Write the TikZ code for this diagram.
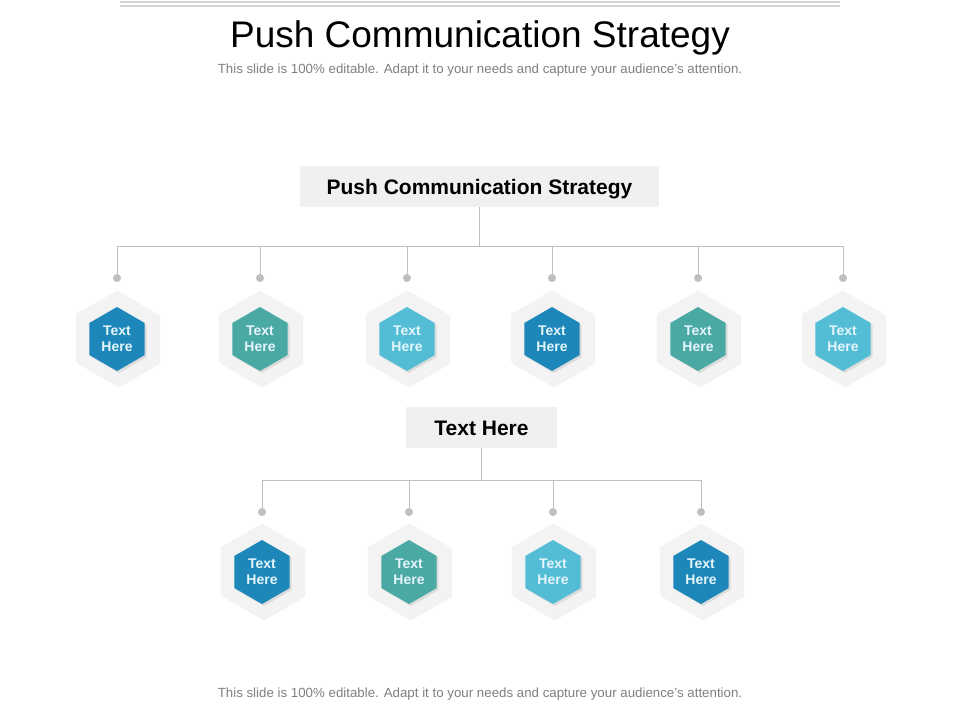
\documentclass[tikz,border=0pt]{standalone}
\usepackage{fontspec}
\setmainfont{Liberation Sans}
\usetikzlibrary{shapes.geometric,shadows}
\definecolor{hexdark}{HTML}{1D87BA}
\definecolor{hexteal}{HTML}{4BA9A4}
\definecolor{hexlight}{HTML}{53BDD6}
\definecolor{hexback}{HTML}{F3F3F4}
\definecolor{hextext}{HTML}{E4F5FB}
\definecolor{linegray}{HTML}{BFBFBF}
\definecolor{boxgray}{HTML}{F0F0F0}
\definecolor{rulegray}{HTML}{D4D4D4}
\definecolor{notegray}{HTML}{808080}
\begin{document}
\begin{tikzpicture}[x=1pt,y=-1pt,
  hexout/.style={regular polygon,regular polygon sides=6,shape border rotate=30,minimum size=95pt,inner sep=0pt,fill=hexback,drop shadow={shadow xshift=2pt,shadow yshift=-2pt,opacity=0.1}},
  hexin/.style={regular polygon,regular polygon sides=6,shape border rotate=30,minimum size=64pt,inner sep=0pt,fill=#1,text=hextext,align=center,font=\bfseries\fontsize{14}{16}\selectfont,drop shadow={shadow xshift=2pt,shadow yshift=-2pt,opacity=0.2}},
  headbox/.style={fill=boxgray,minimum height=41pt,inner sep=0pt,text height=15pt,text depth=0pt,font=\bfseries\fontsize{21}{25}\selectfont},
  note/.style={text=notegray,font=\fontsize{13.3}{16}\selectfont},
  pindot/.style={circle,fill=linegray,inner sep=0pt,minimum size=8pt},
  conn/.style={draw=linegray,line width=1pt}]
\fill[white](0,0)rectangle(960,720);
\useasboundingbox(0,0)rectangle(960,720);
\draw[rulegray,line width=2pt](120,1.5)--(840,1.5) (120,5.5)--(840,5.5);
\node (title) at (480,37.5) {\fontsize{37}{44}\selectfont Push Communication Strategy};
\node[note] (subtitle) at (480,70) {This slide is 100\% editable. Adapt it to your needs and capture your audience's attention.};
\node[note] (footer) at (480,694) {This slide is 100\% editable. Adapt it to your needs and capture your audience's attention.};
% top level
\node[headbox,minimum width=359pt] (main) at (479.5,186.5) {Push Communication Strategy};
\foreach \x/\c [count=\i] in {117/hexdark,260/hexteal,407/hexlight,552/hexdark,698/hexteal,843/hexlight}{
  \node[pindot] (d\i) at (\x,278) {};
  \draw[conn] (main.south)--++(0,39)-|(d\i.north);
  \node[hexout] (o\i) at (\x,338) {};
  \node[hexin=\c] (h\i) at (\x,339) {Text\\Here};
}
% second level
\node[headbox,minimum width=151pt] (branch) at (481.5,427.5) {Text Here};
\foreach \x/\c [count=\i] in {262/hexdark,409/hexteal,553/hexlight,701/hexdark}{
  \node[pindot] (e\i) at (\x,512) {};
  \draw[conn] (branch.south)--++(0,32)-|(e\i.north);
  \node[hexout] (p\i) at (\x,571) {};
  \node[hexin=\c] (k\i) at (\x,572) {Text\\Here};
}
\end{tikzpicture}
\end{document}
